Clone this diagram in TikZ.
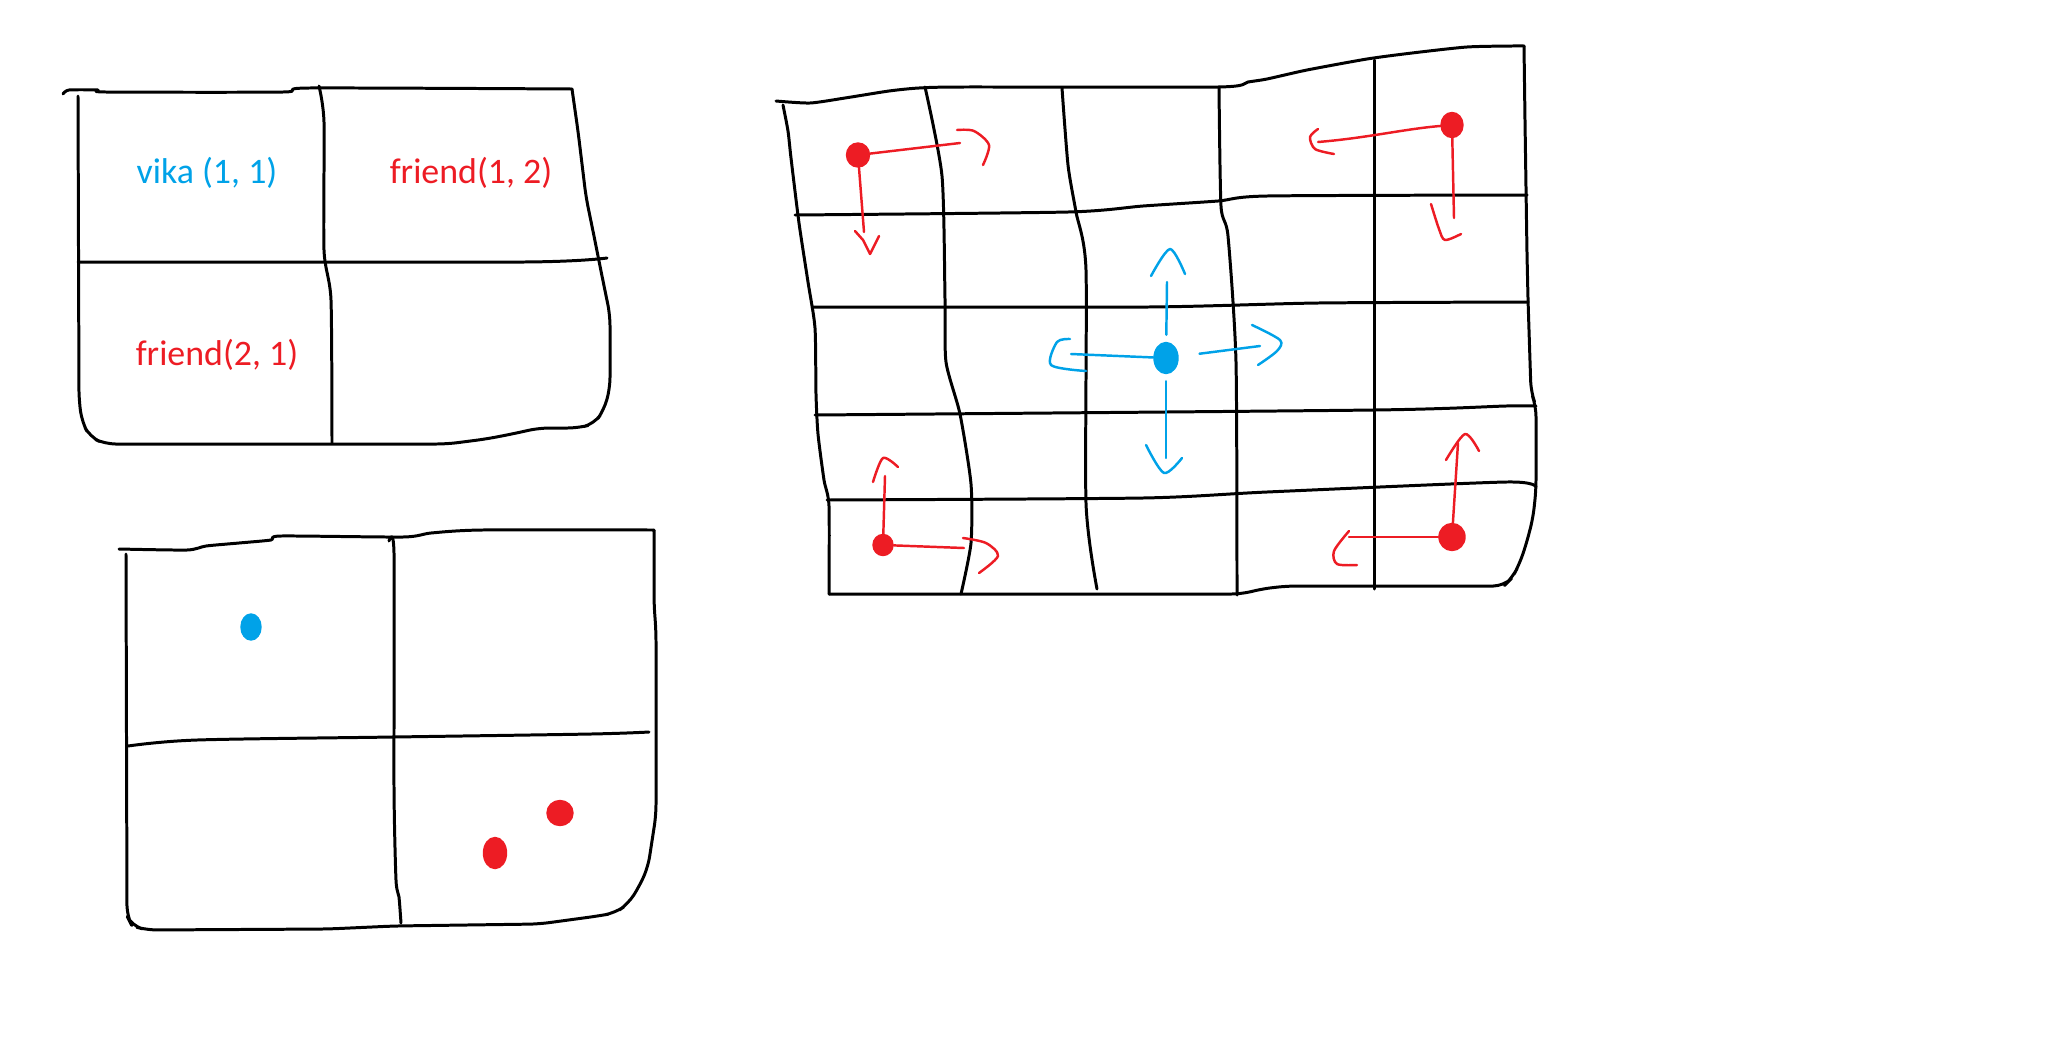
\documentclass[tikz,border=0pt]{standalone}
\usepackage{fontspec}
\setmainfont{Carlito}
\usetikzlibrary{shapes.geometric}
\definecolor{vikablue}{RGB}{0,162,232}
\definecolor{friendred}{RGB}{237,28,36}
\tikzset{
	gridline/.style={draw,line width=0.85pt,line cap=round,line join=round},
	vikalabel/.style={text=vikablue,font=\fontsize{10.2}{12}\selectfont,inner sep=0pt},
	friendlabel/.style={text=friendred,font=\fontsize{10.2}{12}\selectfont,inner sep=0pt},
	vikadot/.style={ellipse,fill=vikablue,draw=vikablue,inner sep=0pt,minimum width=0.24cm,minimum height=0.31cm},
	frienddot/.style={ellipse,fill=friendred,draw=friendred,inner sep=0pt,minimum width=0.23cm,minimum height=0.24cm},
	vikaline/.style={draw=vikablue,line width=0.7pt,line cap=round,line join=round},
	friendline/.style={draw=friendred,line width=0.7pt,line cap=round,line join=round},
}

\begin{document}
\begin{tikzpicture}[x=0.01cm,y=-0.01cm]
	\useasboundingbox (0,0) rectangle (2060,1042);
	
	% Top-left board with labels
	\draw[gridline] plot[smooth,tension=0.4] coordinates {(63,94) (69,90) (98,90) (106,92) (283,92) (309,88) (572,89)};
	\draw[gridline,rounded corners=3pt] (572,89) -- (578,131) -- (586,197) -- (594,236) -- (602,276) -- (610,315) -- (610,388) -- (604,410) -- (594,424) -- (578,428) -- (539,428) -- (512,434) -- (486,439) -- (447,444) -- (105,444) -- (90,437) -- (82,422) -- (79,400) -- (78,96);
	\draw[gridline] plot[smooth,tension=0.4] coordinates {(78,262) (524,262) (607,258)};
	\draw[gridline] plot[smooth,tension=0.4] coordinates {(319,86) (324,122) (324,250) (331,300) (332,443)};
	\node[vikalabel] (vikatext) at (207,173) {vika (1, 1)};
	\node[friendlabel] (friendtop) at (471,173) {friend(1, 2)};
	\node[friendlabel] (friendleft) at (217,355) {friend(2, 1)};
	
	% Bottom-left board with dots
	\draw[gridline] plot[smooth,tension=0.4] coordinates {(119,549) (187,550) (206,546) (239,543) (271,540) (281,536) (403,537) (431,533) (482,530) (654,530)};
	\draw[gridline,rounded corners=3pt] (654,530) -- (654,604) -- (656,631) -- (656,815) -- (652,841) -- (648,867) -- (639,887) -- (628,904) -- (615,913) -- (598,916) -- (539,924) -- (394,926) -- (328,929) -- (147,930) -- (132,926) -- (127,916) -- (126,554);
	\draw[gridline] plot[smooth,tension=0.5] coordinates {(128,746) (197,740) (394,737) (591,734) (649,732)};
	\draw[gridline] plot[smooth,tension=0.4] coordinates {(389,541) (394,553) (394,787) (396,880) (399,897) (401,923)};
	\node[vikadot,minimum width=0.2cm,minimum height=0.26cm] (vikaold) at (251,627) {};
	\node[frienddot,minimum width=0.26cm,minimum height=0.25cm] (friendoldA) at (560,813) {};
	\node[frienddot,minimum width=0.23cm,minimum height=0.31cm] (friendoldB) at (495,853) {};
	
	% Right board
	\draw[gridline] plot[smooth,tension=0.4] coordinates {(776,101) (810,103) (845,98) (889,91) (919,88) (964,87) (1218,87) (1248,82) (1267,79) (1307,70) (1367,59) (1412,53) (1467,47) (1512,46) (1524,46)};
	\draw[gridline,rounded corners=3pt] (1524,46) -- (1525,121) -- (1527,254) -- (1528,299) -- (1531,392) -- (1536,406) -- (1536,490) -- (1533,518) -- (1526,545) -- (1519,565) -- (1512,578) -- (1504,586) -- (1287,586) -- (1261,589) -- (1242,594) -- (829,594);
	\draw[gridline] plot[smooth,tension=0.4] coordinates {(829,594) (829,506) (824,480) (818,434) (816,394) (815,328) (808,282) (799,223) (791,158) (788,131) (783,105)};
	\draw[gridline] plot[smooth,tension=0.4] coordinates {(795,215) (1068,212) (1143,206) (1218,201) (1267,196) (1527,195)};
	\draw[gridline] plot[smooth,tension=0.4] coordinates {(812,307) (1148,307) (1318,303) (1528,302)};
	\draw[gridline] plot[smooth,tension=0.4] coordinates {(815,415) (1374,410) (1506,406) (1536,406)};
	\draw[gridline] plot[smooth,tension=0.4] coordinates {(827,500) (1143,498) (1267,492) (1506,482) (1536,487)};
	\draw[gridline] plot[smooth,tension=0.4] coordinates {(925,87) (942,176) (945,299) (946,362) (960,414) (971,484) (971,543) (961,594)};
	\draw[gridline] plot[smooth,tension=0.4] coordinates {(1062,88) (1068,165) (1076,212) (1086,270) (1086,503) (1097,589)};
	\draw[gridline] plot[smooth,tension=0.4] coordinates {(1219,87) (1221,206) (1228,236) (1236,362) (1237,595)};
	\draw[gridline] (1374,60) -- (1374,589);
	
	% Friends in the corners
	\node[frienddot] (tlf) at (858,155) {};
	\node[frienddot,minimum width=0.22cm,minimum height=0.25cm] (trf) at (1452,125) {};
	\node[frienddot,minimum width=0.2cm,minimum height=0.21cm] (blf) at (883,545) {};
	\node[frienddot,minimum width=0.26cm,minimum height=0.27cm] (brf) at (1452,537) {};
	\coordinate (tlfE) at (960,143);
	\coordinate (tlfS) at (864,232);
	\coordinate (trfW) at (1318,142);
	\coordinate (trfS) at (1454,218);
	\coordinate (blfN) at (885,476);
	\coordinate (blfE) at (964,548);
	\coordinate (brfN) at (1458,443);
	\coordinate (brfW) at (1349,537);
	
	\draw[friendline] (tlf) -- (tlfE);
	\draw[friendline] (tlf) -- (tlfS);
	\draw[friendline] (trf) .. controls (1404,129) and (1367,138) .. (trfW);
	\draw[friendline] (trf) -- (trfS);
	\draw[friendline] (blf) -- (blfN);
	\draw[friendline] (blf) -- (blfE);
	\draw[friendline] (brf) -- (brfN);
	\draw[friendline] (brf) -- (brfW);
	
	\draw[friendline] plot[smooth] coordinates {(957,130) (974,131) (989,145) (983,165)};
	\draw[friendline] (855,231) -- (863,240) -- (870,254) -- (879,236);
	\draw[friendline] plot[smooth] coordinates {(1318,129) (1310,137) (1315,149) (1334,154)};
	\draw[friendline] plot[smooth] coordinates {(1431,204) (1439,229) (1445,240) (1461,234)};
	\draw[friendline] plot[smooth] coordinates {(873,482) (883,458) (898,467)};
	\draw[friendline] plot[smooth] coordinates {(963,538) (986,543) (998,556) (979,573)};
	\draw[friendline] plot[smooth] coordinates {(1446,460) (1465,434) (1479,451)};
	\draw[friendline] plot[smooth] coordinates {(1349,531) (1334,551) (1337,564) (1357,565)};
	
	% Vika in the middle
	\node[vikadot] (vika) at (1166,358) {};
	\coordinate (vikaN) at (1167,282);
	\coordinate (vikaS) at (1166,458);
	\coordinate (vikaW) at (1071,354);
	\coordinate (vikaE) at (1260,346);
	\draw[vikaline,shorten <=0.07cm] (vika) -- (vikaN);
	\draw[vikaline,shorten <=0.07cm] (vika) -- (vikaS);
	\draw[vikaline] (vika) -- (vikaW);
	\draw[vikaline,shorten <=0.21cm] (vika) -- (vikaE);
	\draw[vikaline] plot[smooth] coordinates {(1151,276) (1170,249) (1185,274)};
	\draw[vikaline] plot[smooth] coordinates {(1146,445) (1164,473) (1182,458)};
	\draw[vikaline] plot[smooth] coordinates {(1070,339) (1057,342) (1051,365) (1086,371)};
	\draw[vikaline] plot[smooth] coordinates {(1252,325) (1280,340) (1277,351) (1258,365)};
\end{tikzpicture}
\end{document}
